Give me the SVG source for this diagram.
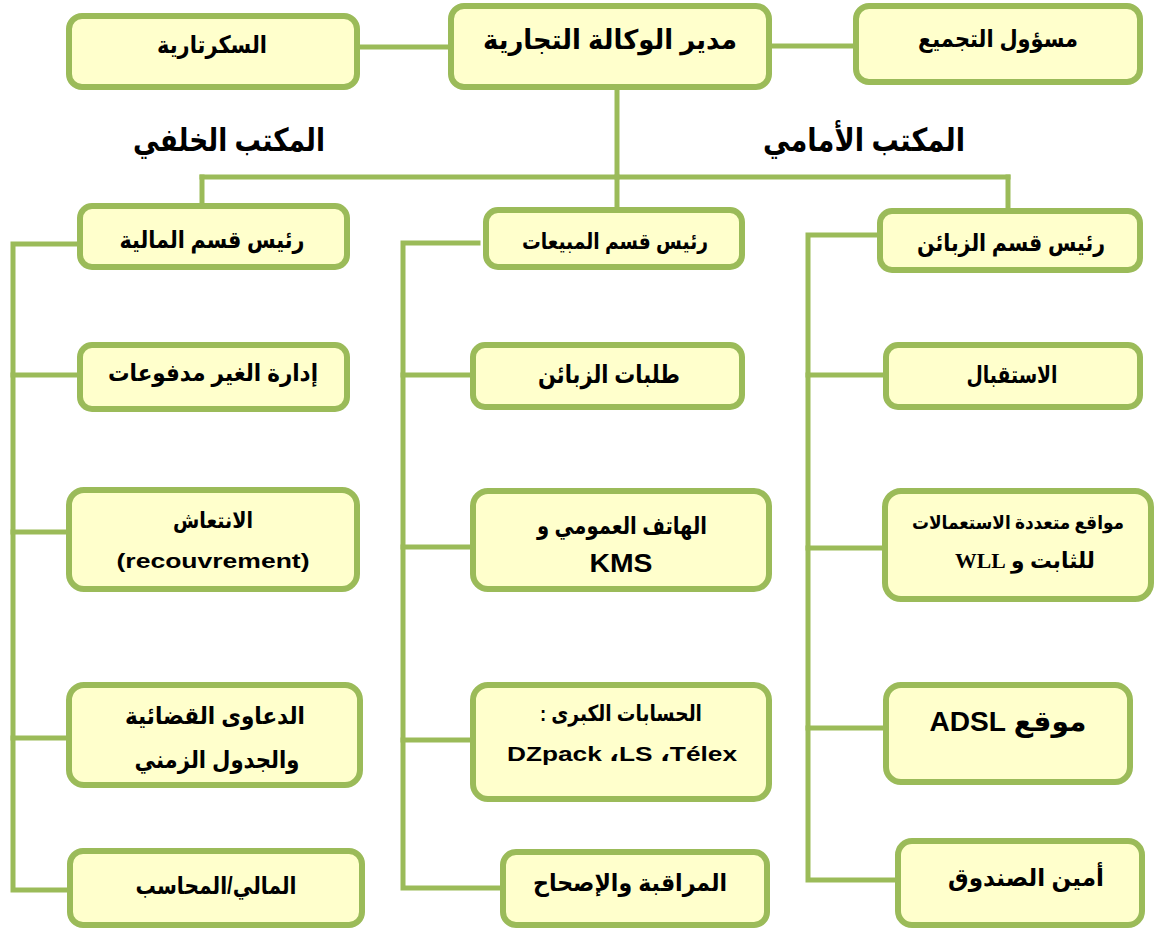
<svg xmlns="http://www.w3.org/2000/svg" width="1157" height="929" viewBox="0 0 1157 929">
  <style>
    .box { fill: #FFFFCC; stroke: #9BBB59; stroke-width: 6; }
    .wire { fill: none; stroke: #9BBB59; stroke-width: 5; stroke-linecap: square; }
    text { font-family: "Liberation Sans", "DejaVu Sans", sans-serif; font-weight: bold; fill: #000; text-anchor: middle; }
    .ar { direction: rtl; unicode-bidi: embed; }
    .t19 { font-size: 19px; }
    .t21 { font-size: 21px; }
    .t22 { font-size: 22px; }
    .t24 { font-size: 24px; }
    .t25 { font-size: 25px; }
    .t27 { font-size: 27px; }
    .t28 { font-size: 28px; }
    .head { font-size: 32px; }
    .serif { font-family: "Liberation Serif", "DejaVu Serif", "DejaVu Sans", serif; }
  </style>

  <!-- connectors -->
  <g id="connectors">
    <line class="wire" x1="360" y1="47" x2="448" y2="47"/>
    <line class="wire" x1="772" y1="46" x2="853" y2="46"/>
    <line class="wire" x1="617" y1="90" x2="617" y2="177"/>
    <line class="wire" x1="202" y1="177" x2="1008" y2="177"/>
    <line class="wire" x1="202" y1="177" x2="202" y2="203"/>
    <line class="wire" x1="617" y1="177" x2="617" y2="207"/>
    <line class="wire" x1="1008" y1="177" x2="1008" y2="208"/>
    <!-- back office branch -->
    <polyline class="wire" points="77,244 13,244 13,890 67,890"/>
    <line class="wire" x1="13" y1="375" x2="77" y2="375"/>
    <line class="wire" x1="13" y1="532" x2="66" y2="532"/>
    <line class="wire" x1="13" y1="738" x2="66" y2="738"/>
    <!-- sales branch -->
    <polyline class="wire" points="478,243 403,243 403,888 500,888"/>
    <line class="wire" x1="403" y1="375" x2="470" y2="375"/>
    <line class="wire" x1="403" y1="547" x2="470" y2="547"/>
    <line class="wire" x1="403" y1="740" x2="470" y2="740"/>
    <!-- front office branch -->
    <polyline class="wire" points="877,235 808,235 808,880 895,880"/>
    <line class="wire" x1="808" y1="375" x2="883" y2="375"/>
    <line class="wire" x1="808" y1="548" x2="882" y2="548"/>
    <line class="wire" x1="808" y1="728" x2="883" y2="728"/>
  </g>

  <!-- section titles -->
  <text class="head ar" x="229" y="151" textLength="192" lengthAdjust="spacingAndGlyphs">المكتب الخلفي</text>
  <text class="head ar" x="864" y="151" textLength="202" lengthAdjust="spacingAndGlyphs">المكتب الأمامي</text>

  <!-- top row -->
  <g id="secretariat">
    <rect class="box" x="69" y="16" width="288" height="71" rx="13"/>
    <text class="t24 ar" x="212" y="53" textLength="110" lengthAdjust="spacingAndGlyphs">السكرتارية</text>
  </g>
  <g id="director">
    <rect class="box" x="451" y="6" width="318" height="81" rx="13"/>
    <text class="t27 ar" x="610" y="49" textLength="254" lengthAdjust="spacingAndGlyphs">مدير الوكالة التجارية</text>
  </g>
  <g id="grouping">
    <rect class="box" x="856" y="6" width="284" height="76" rx="13"/>
    <text class="t24 ar" x="998" y="47" textLength="160" lengthAdjust="spacingAndGlyphs">مسؤول التجميع</text>
  </g>

  <!-- back office column -->
  <g id="finance-head">
    <rect class="box" x="80" y="206" width="267" height="61" rx="12"/>
    <text class="t24 ar" x="212" y="248" textLength="185" lengthAdjust="spacingAndGlyphs">رئيس قسم المالية</text>
  </g>
  <g id="unpaid">
    <rect class="box" x="80" y="345" width="267" height="64" rx="12"/>
    <text class="t24 ar" x="213" y="381" textLength="210" lengthAdjust="spacingAndGlyphs">إدارة الغير مدفوعات</text>
  </g>
  <g id="recovery">
    <rect class="box" x="69" y="490" width="288" height="99" rx="15"/>
    <text class="t22 ar" x="213" y="528" textLength="80" lengthAdjust="spacingAndGlyphs">الانتعاش</text>
    <text class="t21" x="213" y="568" textLength="193" lengthAdjust="spacingAndGlyphs">(recouvrement)</text>
  </g>
  <g id="litigation">
    <rect class="box" x="69" y="685" width="291" height="100" rx="15"/>
    <text class="t24 ar" x="215" y="724" textLength="180" lengthAdjust="spacingAndGlyphs">الدعاوى القضائية</text>
    <text class="t24 ar" x="217" y="768" textLength="165" lengthAdjust="spacingAndGlyphs">والجدول الزمني</text>
  </g>
  <g id="accountant">
    <rect class="box" x="70" y="851" width="292" height="74" rx="13"/>
    <text class="t24 ar" x="216" y="894" textLength="161" lengthAdjust="spacingAndGlyphs">المالي/المحاسب</text>
  </g>

  <!-- sales column -->
  <g id="sales-head">
    <rect class="box" x="486" y="210" width="256" height="57" rx="12"/>
    <text class="t22 ar" x="615" y="249" textLength="186" lengthAdjust="spacingAndGlyphs">رئيس قسم المبيعات</text>
  </g>
  <g id="customer-orders">
    <rect class="box" x="473" y="345" width="269" height="62" rx="12"/>
    <text class="t25 ar" x="609" y="383" textLength="142" lengthAdjust="spacingAndGlyphs">طلبات الزبائن</text>
  </g>
  <g id="payphone">
    <rect class="box" x="473" y="491" width="296" height="98" rx="15"/>
    <text class="t24 ar" x="622" y="534" textLength="170" lengthAdjust="spacingAndGlyphs">الهاتف العمومي و</text>
    <text class="t25" x="621" y="572" textLength="63" lengthAdjust="spacingAndGlyphs">KMS</text>
  </g>
  <g id="key-accounts">
    <rect class="box" x="473" y="685" width="296" height="114" rx="15"/>
    <text class="t22 ar" x="621" y="721" textLength="162" lengthAdjust="spacingAndGlyphs">الحسابات الكبرى :</text>
    <text class="t21" x="622" y="761" textLength="230" lengthAdjust="spacingAndGlyphs">DZpack ،LS ،Télex</text>
  </g>
  <g id="control">
    <rect class="box" x="503" y="852" width="264" height="73" rx="13"/>
    <text class="t24 ar" x="630" y="891" textLength="194" lengthAdjust="spacingAndGlyphs">المراقبة والإصحاح</text>
  </g>

  <!-- front office column -->
  <g id="customers-head">
    <rect class="box" x="880" y="211" width="260" height="59" rx="12"/>
    <text class="t24 ar" x="1011" y="251" textLength="188" lengthAdjust="spacingAndGlyphs">رئيس قسم الزبائن</text>
  </g>
  <g id="reception">
    <rect class="box" x="886" y="345" width="254" height="62" rx="12"/>
    <text class="t24 ar" x="1012" y="383" textLength="91" lengthAdjust="spacingAndGlyphs">الاستقبال</text>
  </g>
  <g id="multi-use-sites">
    <rect class="box" x="885" y="491" width="266" height="108" rx="16"/>
    <text class="t19 ar serif" x="1018" y="529" textLength="212" lengthAdjust="spacingAndGlyphs">مواقع متعددة الاستعمالات</text>
    <text class="t22 ar serif" x="1025" y="568" textLength="140" lengthAdjust="spacingAndGlyphs">للثابت و WLL</text>
  </g>
  <g id="adsl-site">
    <rect class="box" x="886" y="685" width="244" height="97" rx="15"/>
    <text class="t28 ar" x="1008" y="731" textLength="157" lengthAdjust="spacingAndGlyphs">موقع  ADSL</text>
  </g>
  <g id="cashier">
    <rect class="box" x="898" y="841" width="244" height="84" rx="14"/>
    <text class="t24 ar" x="1026" y="886" textLength="156" lengthAdjust="spacingAndGlyphs">أمين الصندوق</text>
  </g>
</svg>
